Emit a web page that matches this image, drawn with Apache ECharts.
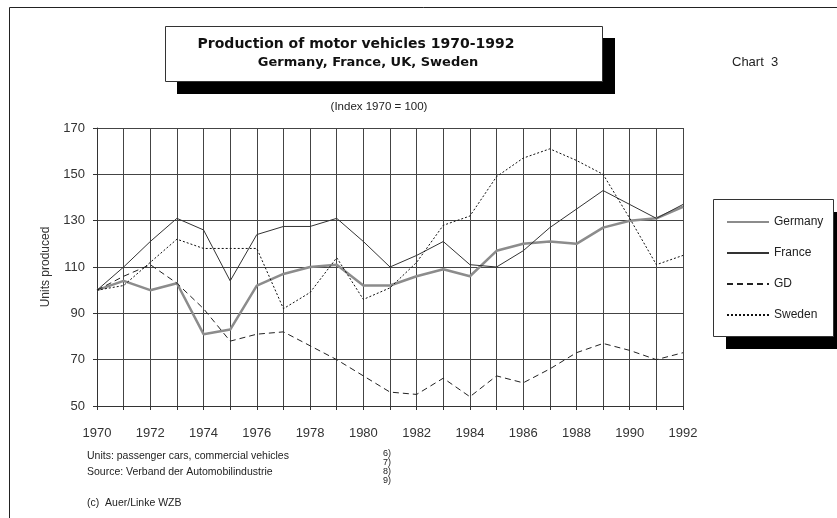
<!DOCTYPE html>
<html>
<head>
<meta charset="utf-8">
<script src="https://cdn.jsdelivr.net/npm/echarts@6/dist/echarts.min.js"></script>
<style>
  html, body { margin: 0; padding: 0; background: #fff; }
  #chart { width: 837px; height: 518px; }
</style>
</head>
<body>
<div id="chart"></div>
<script>
// Motor vehicle production index, 1970 = 100
const years = ['1970','1971','1972','1973','1974','1975','1976','1977','1978','1979','1980','1981',
               '1982','1983','1984','1985','1986','1987','1988','1989','1990','1991','1992'];
const germany = [100, 104, 100, 103, 81, 83, 102, 107, 110, 111, 102, 102, 106, 109, 106, 117, 120, 121, 120, 127, 130, 131, 136];
const france  = [100, 110, 121, 131, 126, 104, 124, 127.5, 127.5, 131, 121, 110, 115, 121, 111, 110, 117, 127, 135, 143, 137, 131, 137];
const gd      = [100, 106, 111, 103, 92, 78, 81, 82, 76, 70, 63, 56, 55, 62, 54, 63, 60, 66, 73, 77, 74, 70, 73];
const sweden  = [100, 102, 112, 122, 118, 118, 118, 92, 99, 114, 96, 101, 112, 128, 132, 149, 157, 161, 156, 150, 131, 111, 115];
const seriesNames = ['Germany', 'France', 'GD', 'Sweden'];
const footNotes = ['6)', '7)', '8)', '9)'];

const FONT = '"Liberation Sans", Arial, sans-serif';
const BOLD = 'bold {s}px "DejaVu Sans", sans-serif';
const chart = echarts.init(document.getElementById('chart'), null, { renderer: 'canvas' });

const txt = (x, y, text, size, extra) => ({
  type: 'text', x: x, y: y, z: 3,
  style: Object.assign({ text: text, fill: '#222', font: size + 'px ' + FONT,
    textVerticalAlign: 'middle' }, extra || {})
});

chart.setOption({
  animation: false,
  backgroundColor: '#fff',
  grid: { left: 97, right: 154, top: 128, height: 278, containLabel: false },
  xAxis: {
    type: 'category',
    data: years,
    boundaryGap: false,
    axisLine: { lineStyle: { color: '#333', width: 1 } },
    axisTick: { show: true, length: 4, interval: 0, lineStyle: { color: '#333' } },
    axisLabel: { interval: 1, margin: 21, fontFamily: FONT, fontSize: 13, color: '#333' },
    splitLine: { show: true, interval: 0, lineStyle: { color: '#444', width: 1 } }
  },
  yAxis: {
    type: 'value',
    min: 50, max: 170, interval: 20,
    name: 'Units produced',
    nameLocation: 'middle',
    nameRotate: 90,
    nameGap: 45,
    nameTextStyle: { fontFamily: FONT, fontSize: 12, color: '#333' },
    axisLine: { show: true, lineStyle: { color: '#333' } },
    axisTick: { show: true, length: 4, lineStyle: { color: '#333' } },
    axisLabel: { margin: 12, fontFamily: FONT, fontSize: 13, color: '#333' },
    splitLine: { show: true, lineStyle: { color: '#444', width: 1 } }
  },
  legend: {
    orient: 'vertical',
    left: 721, top: 211,
    itemWidth: 42, itemHeight: 14, itemGap: 19,
    itemStyle: { opacity: 0 },
    textStyle: { fontFamily: FONT, fontSize: 12, color: '#222' },
    data: seriesNames
  },
  series: [
    { name: seriesNames[0], type: 'line', data: germany, symbol: 'none',
      lineStyle: { color: '#8c8c8c', width: 2.5 }, itemStyle: { color: '#8c8c8c' }, z: 3 },
    { name: seriesNames[1], type: 'line', data: france, symbol: 'none',
      lineStyle: { color: '#333', width: 1 }, itemStyle: { color: '#333' }, z: 4 },
    { name: seriesNames[2], type: 'line', data: gd, symbol: 'none',
      lineStyle: { color: '#222', width: 1, type: [6, 4] }, itemStyle: { color: '#222' }, z: 4 },
    { name: seriesNames[3], type: 'line', data: sweden, symbol: 'none',
      lineStyle: { color: '#111', width: 1, type: [2, 2] }, itemStyle: { color: '#111' }, z: 4 }
  ],
  graphic: [
    // page frame
    { type: 'line', shape: { x1: 9.5, y1: 7.5, x2: 837, y2: 7.5 }, style: { stroke: '#222', lineWidth: 1 } },
    { type: 'line', shape: { x1: 9.5, y1: 7.5, x2: 9.5, y2: 518 }, style: { stroke: '#222', lineWidth: 1 } },
    // title box with drop shadow
    { type: 'rect', shape: { x: 177, y: 38, width: 438, height: 56 }, style: { fill: '#000' }, z: 1 },
    { type: 'rect', shape: { x: 165.5, y: 26.5, width: 437, height: 55 }, style: { fill: '#fff', stroke: '#333', lineWidth: 1 }, z: 2 },
    txt(356, 44, 'Production of motor vehicles 1970-1992', 14,
      { textAlign: 'center', font: BOLD.replace('{s}', 14), fill: '#111' }),
    txt(368, 63, 'Germany, France, UK, Sweden', 13,
      { textAlign: 'center', font: BOLD.replace('{s}', 13), fill: '#111' }),
    txt(379, 107, '(Index 1970 = 100)', 11.5, { textAlign: 'center' }),
    txt(732, 62, 'Chart  3', 13),
    // legend frame with drop shadow
    { type: 'rect', shape: { x: 726, y: 212, width: 120, height: 137 }, style: { fill: '#000' }, z: 1 },
    { type: 'rect', shape: { x: 713.5, y: 199.5, width: 120, height: 137 }, style: { fill: '#fff', stroke: '#333', lineWidth: 1 }, z: 2 },
    // notes below the chart
    txt(87, 456, 'Units: passenger cars, commercial vehicles', 10.5),
    txt(87, 472, 'Source: Verband der Automobilindustrie', 10.5),
    txt(87, 503, '(c)  Auer/Linke WZB', 10.5),
    txt(383, 454, footNotes[0], 9),
    txt(383, 463, footNotes[1], 9),
    txt(383, 472, footNotes[2], 9),
    txt(383, 481, footNotes[3], 9)
  ]
});
</script>
</body>
</html>
